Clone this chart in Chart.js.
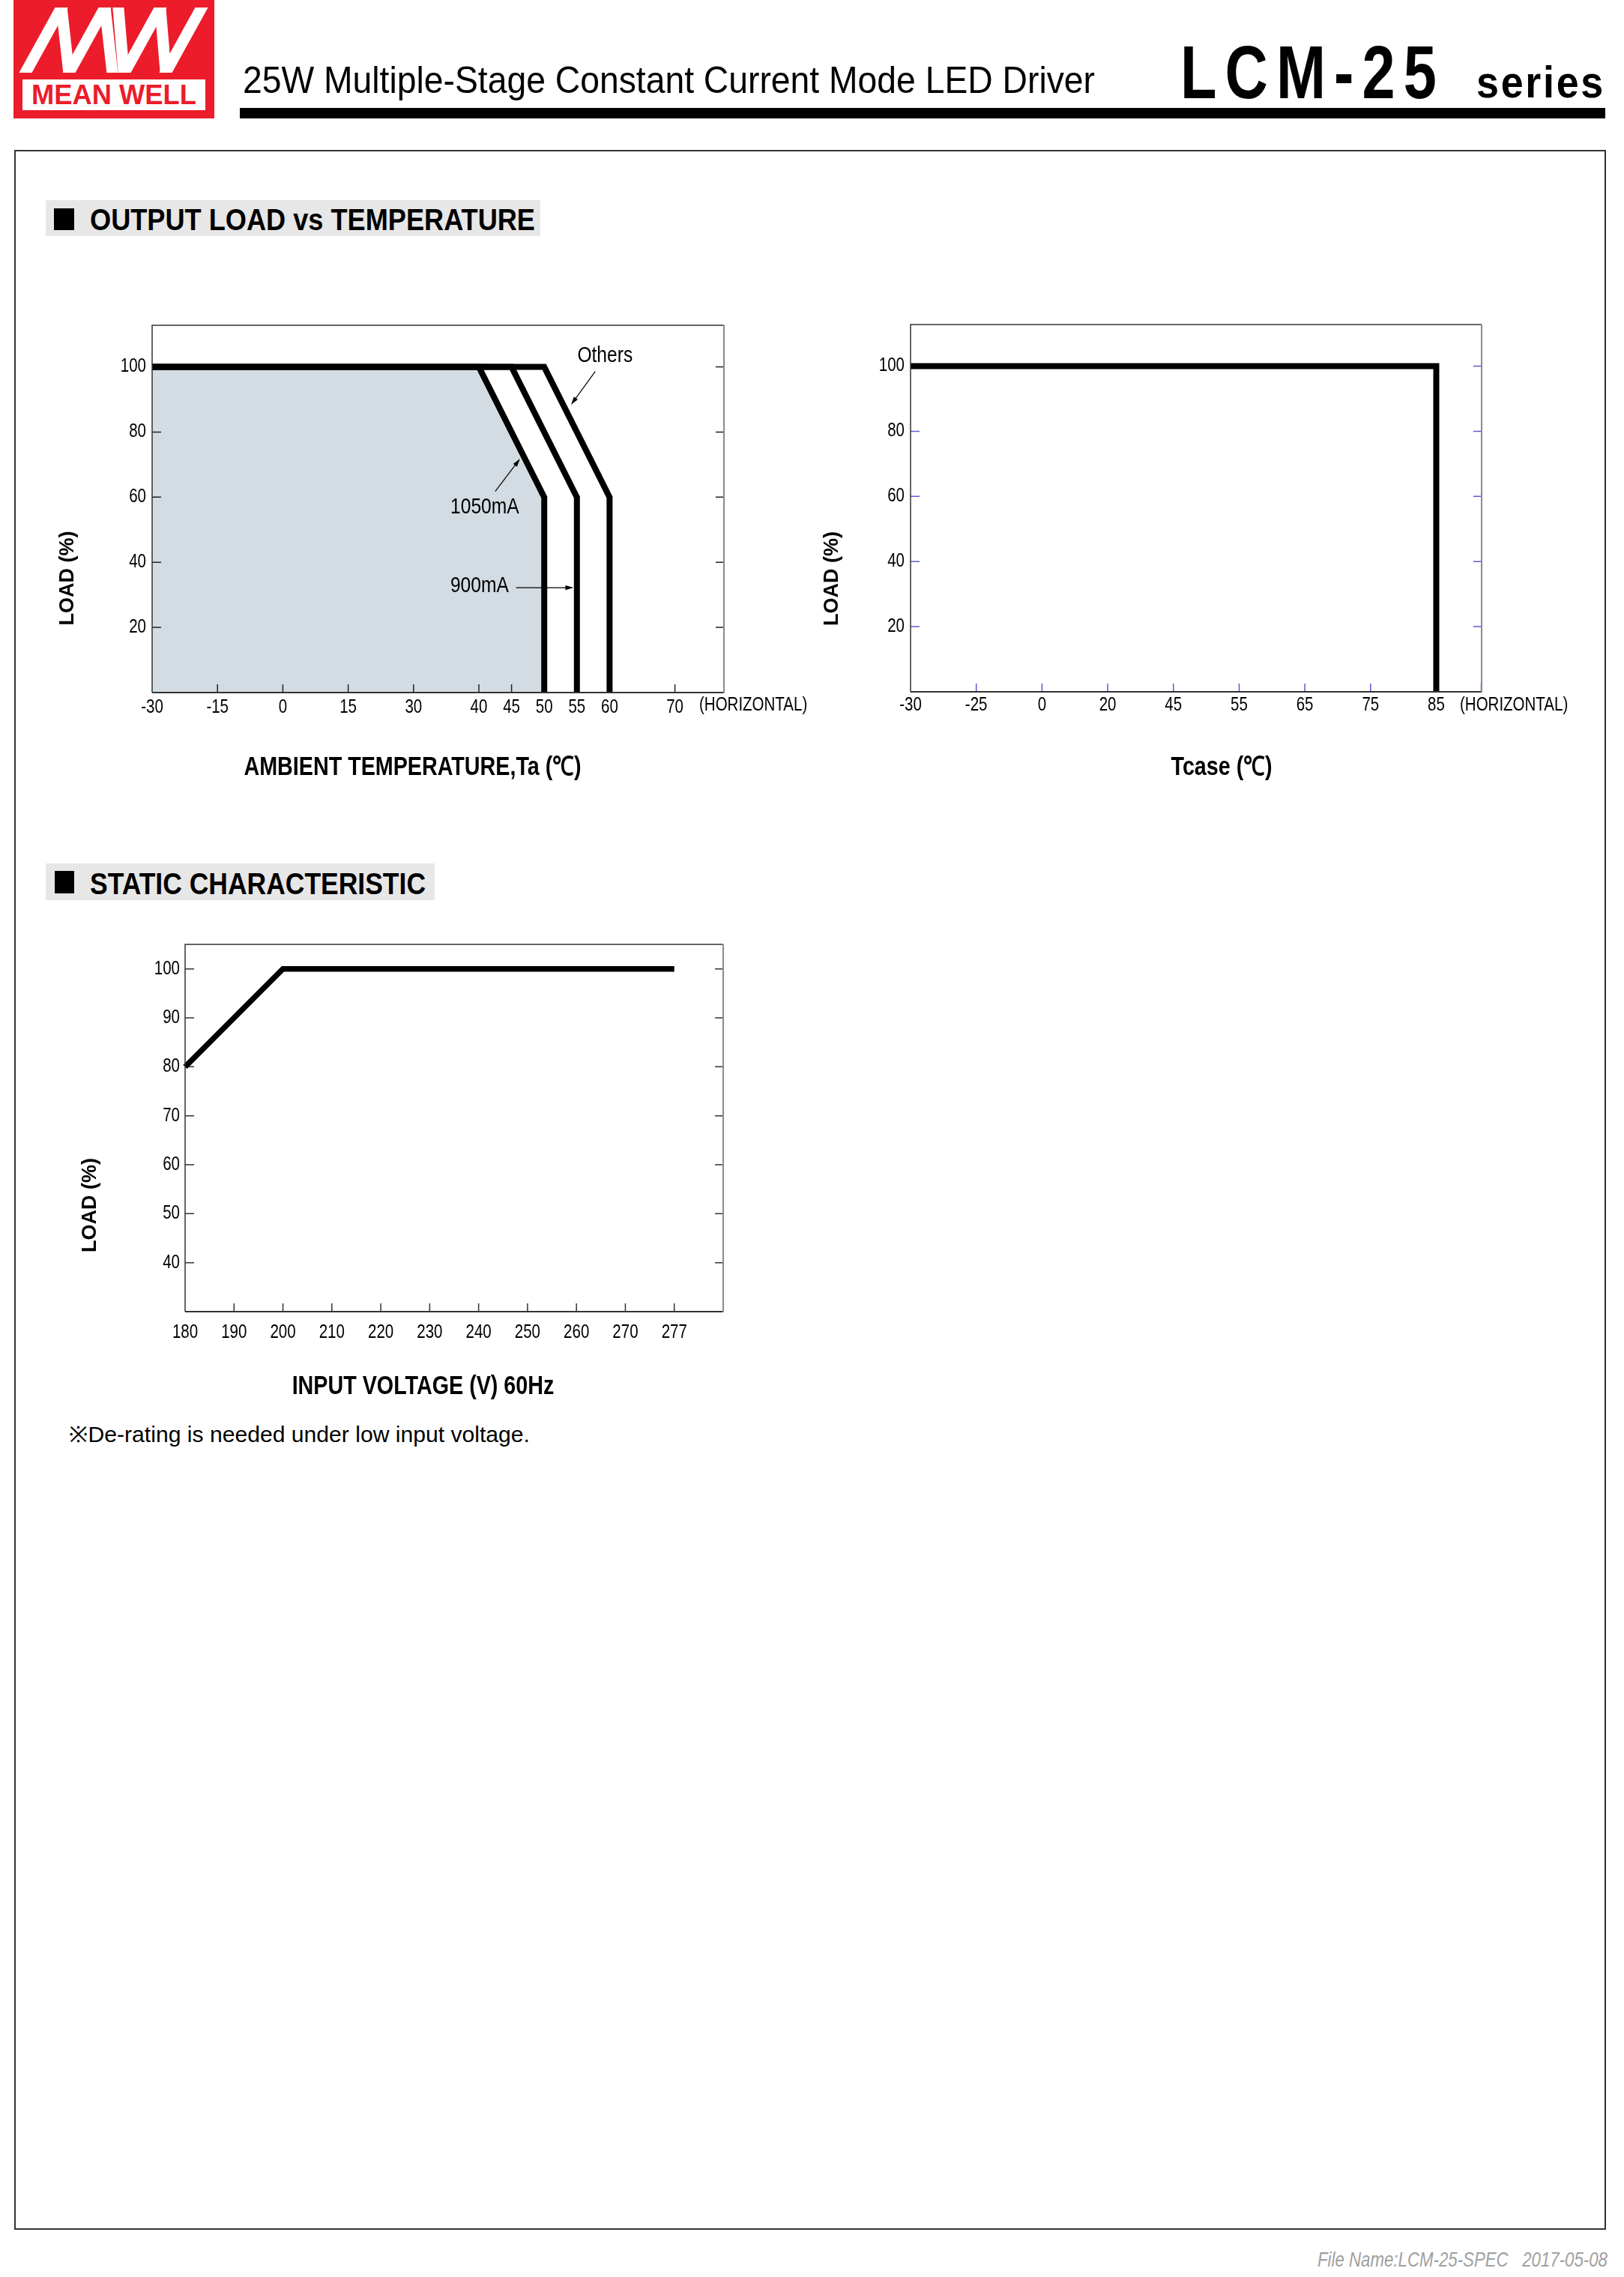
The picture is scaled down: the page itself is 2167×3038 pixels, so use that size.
<!DOCTYPE html>
<html><head><meta charset="utf-8">
<script src="https://cdn.jsdelivr.net/npm/chart.js@4.4.1/dist/chart.umd.min.js"></script>
<style>
html,body{margin:0;padding:0;background:#fff;}
body{width:2167px;height:3038px;position:relative;overflow:hidden;font-family:'Liberation Sans',Arial,sans-serif;}
.abs{position:absolute;}
.txt{position:absolute;white-space:nowrap;line-height:1;transform-origin:0 0;color:#000;}
canvas{position:absolute;}
</style></head><body>

<div class="abs" style="left:18px;top:0;width:268px;height:158px;background:#ec1c2b;"></div>
<svg class="abs" style="left:0;top:0" width="300" height="160">
  <defs><clipPath id="band"><rect x="0" y="10" width="300" height="87"/></clipPath></defs>
  <g clip-path="url(#band)" stroke="#fff" stroke-width="15" fill="none" stroke-linecap="square">
    <line x1="29" y1="106" x2="87" y2="1"/><line x1="81" y1="0" x2="93" y2="107"/>
    <line x1="87" y1="106" x2="145" y2="1"/><line x1="139" y1="0" x2="151" y2="107"/>
    <line x1="157" y1="0" x2="166" y2="107"/><line x1="161" y1="106" x2="219" y2="1"/>
    <line x1="213" y1="0" x2="222" y2="107"/><line x1="216" y1="106" x2="274" y2="1"/>
  </g>
</svg>
<div class="abs" style="left:30px;top:106px;width:244px;height:41px;background:#fff;"></div>
<div class="txt fit" data-w="220" style="left:42px;top:108px;font-weight:bold;font-size:37.5px;color:#ec1c2b;">MEAN WELL</div>

<div class="txt fit" data-w="1137" style="left:324px;top:81.7px;font-family:'Liberation Sans Narrow','Liberation Sans',sans-serif;font-size:50px;">25W Multiple-Stage Constant Current Mode LED Driver</div>
<div class="txt fit" data-w="353" style="left:1575px;top:46px;font-family:'Liberation Sans Narrow','Liberation Sans',sans-serif;font-weight:bold;font-size:100px;letter-spacing:14px;">LCM-25</div>
<div class="txt fit" data-w="172" style="left:1970px;top:80px;font-weight:bold;font-size:60px;letter-spacing:3px;">series</div>
<div class="abs" style="left:320px;top:144px;width:1822px;height:14px;background:#000;"></div>

<div class="abs" style="left:19px;top:200px;width:2124px;height:2775px;border:2px solid #333;box-sizing:border-box;"></div>

<div class="abs" style="left:61px;top:267px;width:660px;height:48px;background:#e7e7e7;"></div>
<div class="abs" style="left:72px;top:278px;width:27px;height:29px;background:#000;"></div>
<div class="txt fit" data-w="594" style="left:120px;top:273px;font-family:'Liberation Sans Narrow','Liberation Sans',sans-serif;font-weight:bold;font-size:40px;">OUTPUT LOAD vs TEMPERATURE</div>

<div class="abs" style="left:61px;top:1152px;width:519px;height:49px;background:#e7e7e7;"></div>
<div class="abs" style="left:73px;top:1162px;width:26px;height:30px;background:#000;"></div>
<div class="txt fit" data-w="448" style="left:119.5px;top:1158.6px;font-family:'Liberation Sans Narrow','Liberation Sans',sans-serif;font-weight:bold;font-size:40px;">STATIC CHARACTERISTIC</div>

<canvas id="c1"></canvas>
<canvas id="c2"></canvas>
<canvas id="c3"></canvas>

<div class="txt fit" data-w="615" style="left:92px;top:1899px;font-family:'Liberation Sans Narrow','Liberation Sans',sans-serif;font-size:29.5px;">※De-rating is needed under low input voltage.</div>
<div class="txt fit" data-w="387" style="left:1758px;top:3001px;font-style:italic;font-size:28px;color:#a0a0a0;">File Name:LCM-25-SPEC&nbsp;&nbsp;&nbsp;2017-05-08</div>

<script>
// ================= DATA =================
// Output load vs ambient temperature
const tempTickLabels = [-30, -15, 0, 15, 30, 40, 45, 50, 55, 60, 70];
const loadTicks = [20, 40, 60, 80, 100];
const temp1050 = [-30, 40, 50, 50];
const load1050 = [100, 100, 60, 0];
const temp900 = [-30, 45, 55, 55];
const load900 = [100, 100, 60, 0];
const tempOthers = [-30, 50, 60, 60];
const loadOthers = [100, 100, 60, 0];
// Output load vs Tcase
const tcaseTickLabels = [-30, -25, 0, 20, 45, 55, 65, 75, 85];
const tcaseValues = [-30, 85, 85];
const tcaseLoad = [100, 100, 0];
// Static characteristic
const voltTickLabels = [180, 190, 200, 210, 220, 230, 240, 250, 260, 270, 277];
const voltValues = [180, 200, 277];
const voltLoad = [80, 100, 100];
const staticLoadTicks = [40, 50, 60, 70, 80, 90, 100];
// Annotations (chart 1), in data units
const noteText = ['Others', '1050mA', '900mA'];
const noteTemp = [59.3, 40.9, 40.1];
const noteLoad = [103.4, 56.9, 32.7];
const arrowFromTemp = [57.8, 42.5, 45.7];
const arrowFromLoad = [98.6, 61.8, 32.2];
const arrowToTemp = [54.1, 46.3, 54.5];
const arrowToLoad = [88.4, 71.8, 32.2];

// ================= AXIS DEFINITIONS =================
const AXES = {
  temp: { values: tempTickLabels, slots: [0, 1, 2, 3, 4, 5, 5.5, 6, 6.5, 7, 8], span: 8.75 },
  tcase: { values: tcaseTickLabels, slots: tcaseTickLabels.map((_, i) => i), span: 8.69 },
  volt: { values: voltTickLabels, slots: voltTickLabels.map((_, i) => i), span: 11 }
};

function hasFont(name) {
  const c = document.createElement('canvas').getContext('2d');
  const s = 'abcdefghijHORIZONTAL0123456789';
  c.font = '40px monospace';
  const w1 = c.measureText(s).width;
  c.font = "40px '" + name + "', monospace";
  return c.measureText(s).width !== w1;
}
const HAS_NARROW = hasFont('Liberation Sans Narrow');
const NARROW = "'Liberation Sans Narrow','Liberation Sans',Arial,sans-serif";
const WIDE = "'Liberation Sans',Arial,sans-serif";
const CONDENSE = HAS_NARROW ? 1 : 0.82;

// Non-uniform (piecewise) axis: ticks sit on equal-spaced slots
class SlotScale extends Chart.LinearScale {
  determineDataLimits() {
    const v = AXES[this.options.axisKey].values;
    this.min = v[0];
    this.max = v[v.length - 1];
  }
  buildTicks() {
    return AXES[this.options.axisKey].values.map(v => ({ value: v }));
  }
  toSlot(val) {
    const { values, slots } = AXES[this.options.axisKey];
    let i = 0;
    while (i < values.length - 2 && val > values[i + 1]) i++;
    const t = (val - values[i]) / (values[i + 1] - values[i]);
    return slots[i] + t * (slots[i + 1] - slots[i]);
  }
  getPixelForValue(value) {
    if (value === null || value === undefined || isNaN(value)) return NaN;
    return this.getPixelForDecimal(this.toSlot(value) / AXES[this.options.axisKey].span);
  }
}
SlotScale.id = 'slot';
SlotScale.defaults = {};
Chart.register(SlotScale);

function pts(xs, ys) { return xs.map((x, i) => ({ x: x, y: ys[i] })); }

// condensed text rendering on chart canvases (emulates the narrow face)
function condenseContext(ctx) {
  const base = CanvasRenderingContext2D.prototype.fillText;
  ctx.condense = CONDENSE;
  ctx.fillText = function (t, x, y) {
    const k = this.condense;
    if (k === 1) return base.call(this, t, x, y);
    this.save();
    this.translate(x, y);
    this.scale(k, 1);
    base.call(this, t, 0, 0);
    this.restore();
  };
}

function framePlugin(cfg) {
  return {
    id: 'frame',
    beforeDatasetsDraw(chart) {
      const { ctx, chartArea: a, scales: { x, y } } = chart;
      ctx.save();
      ctx.strokeStyle = cfg.tickColor;
      ctx.lineWidth = 1.5;
      ctx.beginPath();
      y.ticks.forEach(t => {
        const py = y.getPixelForValue(t.value);
        ctx.moveTo(a.left, py); ctx.lineTo(a.left + 12, py);
        ctx.moveTo(a.right, py); ctx.lineTo(a.right - 11, py);
      });
      x.ticks.forEach((t, i) => {
        if (i === 0) return;
        const px = x.getPixelForValue(t.value);
        ctx.moveTo(px, a.bottom); ctx.lineTo(px, a.bottom - 11);
      });
      if (cfg.cornerTick) { ctx.moveTo(a.right - 0.5, a.bottom); ctx.lineTo(a.right - 0.5, a.bottom - 12); }
      ctx.stroke();
      ctx.restore();
    },
    afterDatasetsDraw(chart) {
      const { ctx, chartArea: a, scales: { x, y } } = chart;
      ctx.save();
      // frame
      ctx.strokeStyle = '#333';
      ctx.lineWidth = 1.5;
      ctx.beginPath();
      ctx.moveTo(a.right, a.top); ctx.lineTo(a.left, a.top); ctx.lineTo(a.left, a.bottom);
      ctx.stroke();
      ctx.lineWidth = 2;
      ctx.beginPath(); ctx.moveTo(a.left, a.bottom); ctx.lineTo(a.right, a.bottom); ctx.stroke();
      ctx.strokeStyle = '#8a8a8a';
      ctx.beginPath(); ctx.moveTo(a.right, a.top); ctx.lineTo(a.right, a.bottom + 1); ctx.stroke();
      ctx.fillStyle = '#000';
      ctx.textBaseline = 'middle';
      // (HORIZONTAL)
      if (cfg.horizontal) {
        ctx.font = '25px ' + NARROW;
        ctx.textAlign = 'left';
        ctx.fillText('(HORIZONTAL)', a.right + cfg.horizDx, a.bottom + cfg.horizDy);
      }
      // axis titles
      ctx.font = 'bold 35px ' + NARROW;
      ctx.textAlign = 'center';
      ctx.fillText(cfg.xTitle, (a.left + a.right) / 2 + cfg.xTitleDx, a.bottom + cfg.xTitleDy);
      ctx.save();
      ctx.translate(a.left + cfg.yTitleDx, a.bottom + cfg.yTitleDy);
      ctx.rotate(-Math.PI / 2);
      ctx.font = 'bold 27px ' + WIDE;
      const k = ctx.condense; ctx.condense = 1;
      ctx.fillText(cfg.yTitle, 0, 0);
      ctx.condense = k;
      ctx.restore();
      // annotations
      if (cfg.notes) {
        ctx.font = '30px ' + NARROW;
        ctx.textAlign = 'center';
        noteText.forEach((s, i) => {
          ctx.fillText(s, x.getPixelForValue(noteTemp[i]), y.getPixelForValue(noteLoad[i]));
          const x0 = x.getPixelForValue(arrowFromTemp[i]), y0 = y.getPixelForValue(arrowFromLoad[i]);
          const x1 = x.getPixelForValue(arrowToTemp[i]), y1 = y.getPixelForValue(arrowToLoad[i]);
          const ang = Math.atan2(y1 - y0, x1 - x0);
          ctx.strokeStyle = '#000'; ctx.lineWidth = 1.2;
          ctx.beginPath(); ctx.moveTo(x0, y0);
          ctx.lineTo(x1 - 8 * Math.cos(ang), y1 - 8 * Math.sin(ang)); ctx.stroke();
          ctx.beginPath();
          ctx.moveTo(x1, y1);
          ctx.lineTo(x1 - 11 * Math.cos(ang) + 3.2 * Math.sin(ang), y1 - 11 * Math.sin(ang) - 3.2 * Math.cos(ang));
          ctx.lineTo(x1 - 11 * Math.cos(ang) - 3.2 * Math.sin(ang), y1 - 11 * Math.sin(ang) + 3.2 * Math.cos(ang));
          ctx.closePath(); ctx.fill();
        });
      }
      ctx.restore();
    }
  };
}

function makeChart(id, g, cfg) {
  const cv = document.getElementById(id);
  cv.width = g.cw; cv.height = g.ch;
  cv.style.left = g.cx + 'px'; cv.style.top = g.cy + 'px';
  cv.style.width = g.cw + 'px'; cv.style.height = g.ch + 'px';
  condenseContext(cv.getContext('2d'));
  const yW = g.L - g.cx, padTop = g.T - g.cy, padRight = g.cx + g.cw - g.R, xH = g.cy + g.ch - g.B;
  return new Chart(cv, {
    type: 'line',
    data: { datasets: cfg.datasets },
    options: {
      responsive: false, animation: false, devicePixelRatio: 1,
      layout: { padding: { top: padTop, right: padRight, left: 0, bottom: 0 } },
      plugins: { legend: { display: false }, tooltip: { enabled: false }, filler: { drawTime: 'beforeDatasetsDraw' } },
      elements: { point: { radius: 0 }, line: { tension: 0, borderJoinStyle: 'miter', borderCapStyle: 'butt' } },
      scales: {
        x: {
          type: 'slot', axisKey: cfg.axisKey, position: 'bottom',
          grid: { display: false, drawTicks: false }, border: { display: false },
          ticks: { autoSkip: false, maxRotation: 0, minRotation: 0, padding: cfg.xPad, color: '#000',
                   font: { family: NARROW, size: 25 }, callback: v => String(v) },
          afterFit: s => { s.height = xH; }
        },
        y: {
          type: 'linear', position: 'left', min: cfg.yMin, max: cfg.yMax,
          afterBuildTicks: s => { s.ticks = cfg.yTicks.map(v => ({ value: v })); },
          grid: { display: false, drawTicks: false }, border: { display: false },
          ticks: { padding: cfg.yPad, color: '#000', font: { family: NARROW, size: 25 }, callback: v => String(v) },
          afterFit: s => { s.width = yW; }
        }
      }
    },
    plugins: [framePlugin(cfg)]
  });
}

const lineStyle = { borderColor: '#000', borderWidth: 8, pointRadius: 0, fill: false };

makeChart('c1', { cx: 40, cy: 400, cw: 1090, ch: 680, L: 203, T: 434, R: 966, B: 924 }, {
  axisKey: 'temp', yMin: 0, yMax: 112.8, yTicks: loadTicks, xPad: 5, yPad: 8,
  tickColor: '#222', cornerTick: false, horizontal: true, horizDx: -33, horizDy: 17,
  xTitle: 'AMBIENT TEMPERATURE,Ta (℃)', xTitleDx: -34, xTitleDy: 100,
  yTitle: 'LOAD (%)', yTitleDx: -112.5, yTitleDy: -152.5, notes: true,
  datasets: [
    Object.assign({}, lineStyle, { label: '1050mA', data: pts(temp1050, load1050), fill: 'origin', backgroundColor: 'rgb(211,220,226)' }),
    Object.assign({}, lineStyle, { label: '900mA', data: pts(temp900, load900) }),
    Object.assign({}, lineStyle, { label: 'Others', data: pts(tempOthers, loadOthers) })
  ]
});

makeChart('c2', { cx: 1075, cy: 400, cw: 1085, ch: 680, L: 1215, T: 433, R: 1977, B: 923 }, {
  axisKey: 'tcase', yMin: 0, yMax: 112.8, yTicks: loadTicks, xPad: 3, yPad: 8,
  tickColor: '#5a5ad8', cornerTick: true, horizontal: true, horizDx: -29, horizDy: 18,
  xTitle: 'Tcase (℃)', xTitleDx: 34, xTitleDy: 101,
  yTitle: 'LOAD (%)', yTitleDx: -104, yTitleDy: -151, notes: false,
  datasets: [
    Object.assign({}, lineStyle, { label: 'Tcase', data: pts(tcaseValues, tcaseLoad) })
  ]
});

makeChart('c3', { cx: 60, cy: 1220, cw: 960, ch: 660, L: 247, T: 1260, R: 965, B: 1750 }, {
  axisKey: 'volt', yMin: 30, yMax: 105, yTicks: staticLoadTicks, xPad: 13, yPad: 7,
  tickColor: '#333', cornerTick: false, horizontal: false,
  xTitle: 'INPUT VOLTAGE (V) 60Hz', xTitleDx: -41.5, xTitleDy: 100,
  yTitle: 'LOAD (%)', yTitleDx: -126.5, yTitleDy: -142, notes: false,
  datasets: [
    Object.assign({}, lineStyle, { label: 'Load', data: pts(voltValues, voltLoad), borderWidth: 7.5 })
  ]
});

document.querySelectorAll('.fit').forEach(el => {
  const w = el.getBoundingClientRect().width;
  const t = +el.dataset.w;
  if (w > 0) el.style.transform = 'scaleX(' + (t / w) + ')';
});
</script>
</body></html>
